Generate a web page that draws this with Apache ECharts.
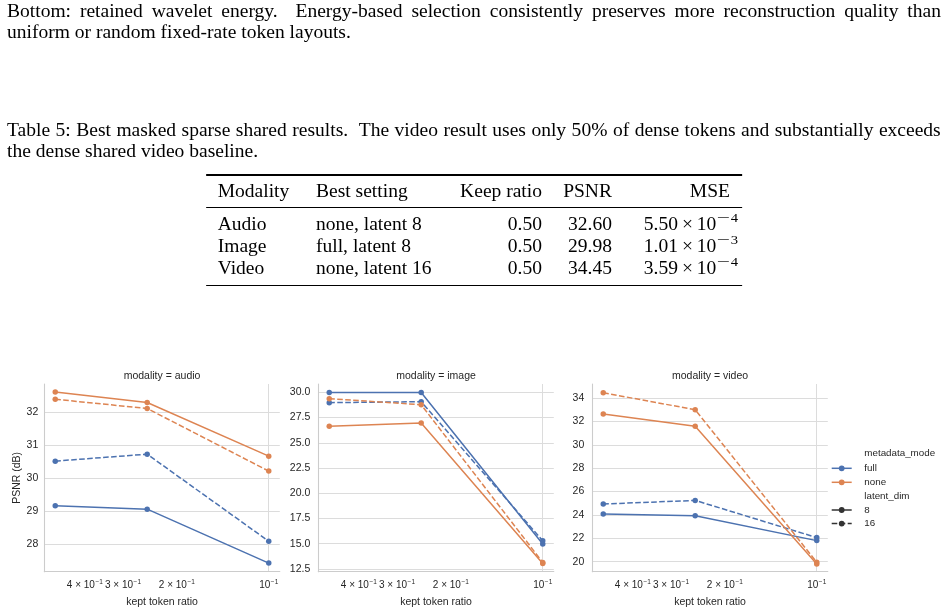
<!DOCTYPE html>
<html>
<head>
<meta charset="utf-8">
<script src="https://cdn.jsdelivr.net/npm/echarts@6/dist/echarts.min.js"></script>
<style>
  html, body { margin: 0; padding: 0; background: #fff; }
  #chart { position: absolute; left: 0; top: 0; width: 948px; height: 614px; }
  #txt { position: absolute; left: 0; top: 0; width: 873.73px; height: 614px;
         transform: scaleX(1.085); transform-origin: 0 0;
         font-family: "Liberation Serif", "Times New Roman", serif; font-size: 18px; color: #000;
         pointer-events: none; }
  .ln { position: absolute; white-space: pre; line-height: 21px; }
  .ln span { display: inline-block; white-space: pre; }
  .row { position: absolute; white-space: pre; line-height: 22px; }
  .rule { position: absolute; background: #000; }
  .sup { position: relative; top: -7.5px; font-size: 13.5px; margin-left: 0.5px; }
  .mi { display: inline-block; transform: scaleX(1.6); margin: 0 2.8px 0 2.3px; }
</style>
</head>
<body>
<div id="chart"></div>
<div id="txt"></div>
<script>
// ---------------- data ----------------
const captionTop = [
  "Bottom: retained wavelet energy.  Energy-based selection consistently preserves more reconstruction quality than",
  "uniform or random fixed-rate token layouts."
];
const captionTable = [
  "Table 5: Best masked sparse shared results.  The video result uses only 50% of dense tokens and substantially exceeds",
  "the dense shared video baseline."
];
const tableHeader = ["Modality", "Best setting", "Keep ratio", "PSNR", "MSE"];
const tableModality = ["Audio", "Image", "Video"];
const tableSetting = ["none, latent 8", "full, latent 8", "none, latent 16"];
const tableKeep = ["0.50", "0.50", "0.50"];
const tablePSNR = ["32.60", "29.98", "34.45"];
const tableMSEMant = ["5.50", "1.01", "3.59"];
const tableMSEExp = ["4", "3", "4"];

const panels = ["audio", "image", "video"];
const hueNames = ["full", "none"];
const dimNames = [8, 16];
const ratios = [0.5, 0.25, 0.1];

const audioFull8  = [29.16, 29.06, 27.43];
const audioFull16 = [30.51, 30.72, 28.09];
const audioNone8  = [32.60, 32.28, 30.66];
const audioNone16 = [32.38, 32.10, 30.21];

const imageFull8  = [29.98, 29.98, 14.98];
const imageFull16 = [28.97, 29.07, 15.30];
const imageNone8  = [26.63, 26.96, 13.05];
const imageNone16 = [29.37, 28.77, 13.15];

const videoFull8  = [24.07, 23.93, 21.80];
const videoFull16 = [24.93, 25.24, 22.06];
const videoNone8  = [32.64, 31.59, 19.80];
const videoNone16 = [34.45, 33.00, 19.95];

const yTicksAudio = [28, 29, 30, 31, 32];
const yTicksImage = [12.5, 15, 17.5, 20, 22.5, 25, 27.5, 30];
const yTicksVideo = [20, 22, 24, 26, 28, 30, 32, 34];
const xTickLabels = [0.4, 0.3, 0.2, 0.1];
const xMajorTicks = [0.1];

// ---------------- text layer ----------------
const S = 1.085;
const txt = document.getElementById('txt');
function ix(px) { return px / S; }
function addLine(text, left, top, width) {
  const d = document.createElement('div');
  d.className = 'ln';
  d.style.left = ix(left) + 'px';
  d.style.top = top + 'px';
  const sp = document.createElement('span');
  sp.textContent = text;
  d.appendChild(sp);
  txt.appendChild(d);
  if (width) {
    const nat = sp.offsetWidth;
    const n = (text.match(/ /g) || []).length;
    sp.style.wordSpacing = ((ix(width) - nat) / n) + 'px';
  }
}
addLine(captionTop[0], 7, 0.8, 933.5);
addLine(captionTop[1], 7, 21.8);
addLine(captionTable[0], 7, 119.6, 933.5);
addLine(captionTable[1], 7, 140.6);

function rule(y, h) {
  const d = document.createElement('div');
  d.className = 'rule';
  d.style.left = ix(206.5) + 'px';
  d.style.width = ix(742 - 206.5) + 'px';
  d.style.top = y + 'px';
  d.style.height = h + 'px';
  txt.appendChild(d);
}
rule(174.4, 1.2);
rule(206.9, 0.8);
rule(285.1, 1.2);

function cell(html, x, top, align) {
  const d = document.createElement('div');
  d.className = 'row';
  d.innerHTML = html;
  d.style.top = top + 'px';
  if (align === 'right') { d.style.right = (873.73 - ix(x)) + 'px'; d.style.textAlign = 'right'; }
  else d.style.left = ix(x) + 'px';
  txt.appendChild(d);
}
const colX = [217.7, 316, 542, 612, 730];
const colA = ['left', 'left', 'right', 'right', 'right'];
const hdrTop = 179.6;
tableHeader.forEach((h, j) => cell(h, colX[j], hdrTop, colA[j]));
const rowTops = [212.9, 234.9, 256.9];
for (let i = 0; i < 3; i++) {
  cell(tableModality[i], colX[0], rowTops[i], 'left');
  cell(tableSetting[i], colX[1], rowTops[i], 'left');
  cell(tableKeep[i], colX[2], rowTops[i], 'right');
  cell(tablePSNR[i], colX[3], rowTops[i], 'right');
  cell(tableMSEMant[i] + '\u2009\u00d7\u200910<span class="sup"><span class="mi">\u2212</span>' + tableMSEExp[i] + '</span>', 738, rowTops[i], 'right');
}

// ---------------- chart ----------------
const BLUE = '#4c72b0', ORANGE = '#dd8452', TXT = '#262626';
const FONT = '"Liberation Sans", Arial, sans-serif';
const FS = 10.5;
const values = {
  audio: { full: { 8: audioFull8, 16: audioFull16 }, none: { 8: audioNone8, 16: audioNone16 } },
  image: { full: { 8: imageFull8, 16: imageFull16 }, none: { 8: imageNone8, 16: imageNone16 } },
  video: { full: { 8: videoFull8, 16: videoFull16 }, none: { 8: videoNone8, 16: videoNone16 } }
};
const yTicks = { audio: yTicksAudio, image: yTicksImage, video: yTicksVideo };
const yRange = { audio: [27.17, 32.84], image: [12.23, 30.82], video: [19.14, 35.2] };
const yMargin = { audio: 6, image: 8, video: 8 };
const gridLeft = [44.3, 318.3, 592.3];
const gridW = 235.5, gridTop = 384, gridH = 187.7;
const hueColor = { full: BLUE, none: ORANGE };
const DASH = [5.6, 2.4];

function xFmt(v) {
  const e = Math.floor(Math.log10(v) + 1e-9);
  const m = Math.round(v / Math.pow(10, e));
  const es = (e < 0 ? '\u2212' : '') + Math.abs(e);
  return (m === 1 ? '{b|10}' : '{b|' + m + ' \u00d7 10}') + '{s|' + es + '}';
}

const grids = [], xAxes = [], yAxes = [], series = [], graphics = [];
panels.forEach((p, i) => {
  grids.push({ left: gridLeft[i], top: gridTop, width: gridW, height: gridH, containLabel: false });
  xAxes.push({
    type: 'log', logBase: 10, gridIndex: i, inverse: true, min: 0.092, max: 0.543,
    axisLine: { show: true, onZero: false, lineStyle: { color: '#cccccc', width: 1.1 } },
    axisTick: { show: false, customValues: xMajorTicks },
    axisLabel: {
      customValues: xTickLabels, formatter: xFmt, margin: 7,
      showMinLabel: true, showMaxLabel: true, hideOverlap: false,
      rich: {
        b: { fontSize: 10, fontFamily: FONT, color: TXT, lineHeight: 12, padding: [3, 0, 0, 0], verticalAlign: 'bottom' },
        s: { fontSize: 6.5, fontFamily: FONT, color: TXT, lineHeight: 8, verticalAlign: 'top', padding: [0, 0, 0, 0.5] }
      }
    },
    splitLine: { show: true, lineStyle: { color: '#dcdcdc', width: 1 } },
    minorTick: { show: false }, minorSplitLine: { show: false },
    name: 'kept token ratio', nameLocation: 'middle', nameGap: 25,
    nameTextStyle: { fontSize: FS, fontFamily: FONT, color: TXT }
  });
  const fmt = p === 'image' ? (v => Number(v).toFixed(1)) : (v => String(v));
  yAxes.push({
    type: 'value', gridIndex: i, min: yRange[p][0], max: yRange[p][1],
    axisLine: { show: true, lineStyle: { color: '#cccccc', width: 1.1 } },
    axisTick: { show: false, customValues: yTicks[p] },
    axisLabel: { customValues: yTicks[p], formatter: fmt, margin: yMargin[p], fontSize: FS, fontFamily: FONT, color: TXT,
                 showMinLabel: true, showMaxLabel: true },
    splitLine: { show: true, lineStyle: { color: '#dcdcdc', width: 1 } },
    name: i === 0 ? 'PSNR (dB)' : '', nameLocation: 'middle', nameGap: 21,
    nameTextStyle: { fontSize: FS, fontFamily: FONT, color: TXT }
  });
  hueNames.forEach(h => {
    dimNames.forEach(d => {
      const vals = values[p][h][d];
      series.push({
        type: 'line', xAxisIndex: i, yAxisIndex: i, name: p + '-' + h + '-' + d,
        data: ratios.map((r, k) => [r, vals[k]]),
        symbol: 'circle', symbolSize: 5.5, showSymbol: true,
        lineStyle: { width: 1.5, color: hueColor[h], type: d === 16 ? DASH : 'solid' },
        itemStyle: { color: hueColor[h] },
        emphasis: { disabled: true }, animation: false
      });
    });
  });
  graphics.push({
    type: 'text', x: gridLeft[i] + gridW / 2, y: 376,
    style: { text: 'modality = ' + p, font: FS + 'px ' + FONT, fill: TXT, align: 'center', verticalAlign: 'middle' }
  });
});

// legend (drawn as graphics)
const LX0 = 831.7, LX1 = 851.7, LXT = 864.3;
function legLabel(t, y) {
  graphics.push({ type: 'text', x: LXT, y: y, style: { text: t, font: '9.8px ' + FONT, fill: TXT, align: 'left', verticalAlign: 'middle' } });
}
function legMark(y, color, dashed) {
  graphics.push({ type: 'line', shape: { x1: LX0, y1: y, x2: LX1, y2: y }, style: { stroke: color, lineWidth: 1.5, lineDash: dashed ? DASH : null } });
  graphics.push({ type: 'circle', shape: { cx: (LX0 + LX1) / 2, cy: y, r: 2.9 }, style: { fill: color } });
}
legLabel('metadata_mode', 453.5);
legMark(468.3, BLUE, false); legLabel(hueNames[0], 468.3);
legMark(482.3, ORANGE, false); legLabel(hueNames[1], 482.3);
legLabel('latent_dim', 496.2);
legMark(510, '#333333', false); legLabel(String(dimNames[0]), 510);
legMark(523.6, '#333333', true); legLabel(String(dimNames[1]), 523.6);

const chart = echarts.init(document.getElementById('chart'), null, { renderer: 'canvas' });
chart.setOption({
  backgroundColor: '#ffffff',
  animation: false,
  grid: grids, xAxis: xAxes, yAxis: yAxes, series: series,
  graphic: graphics
});
</script>
</body>
</html>
